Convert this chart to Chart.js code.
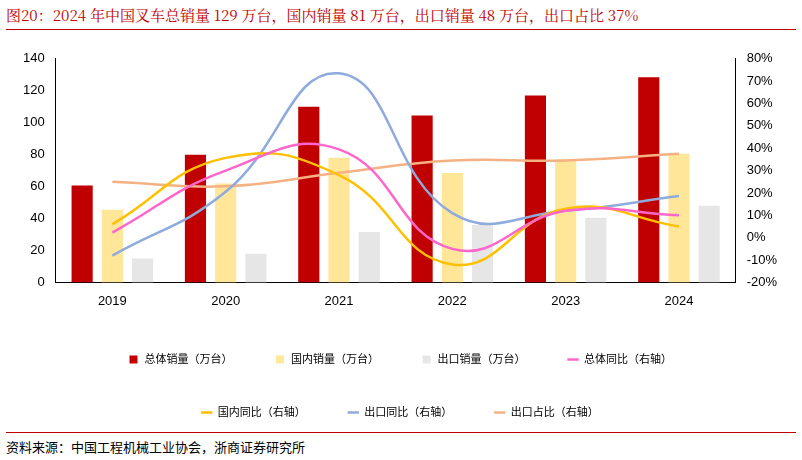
<!DOCTYPE html><html><head><meta charset="utf-8">
<script src="https://cdn.jsdelivr.net/npm/chart.js@4"></script>
<style>body{margin:0;background:#fff;font-family:"Liberation Sans","Noto Sans CJK SC";}
#t{position:absolute;left:6px;top:4px;color:#C00000;font-size:15px;font-family:"Noto Serif CJK SC","Noto Sans CJK SC";width:790px;border-bottom:1.5px solid #C00000;padding-bottom:4px}
#s{position:absolute;left:6px;top:432px;font-size:13px;width:790px;border-top:1.5px solid #C00000;padding-top:4px;font-family:"Noto Sans CJK SC"}
#w{position:absolute;left:20px;top:48px;width:760px;height:380px}</style></head><body>
<div id="t">图20：2024 年中国叉车总销量 129 万台，国内销量 81 万台，出口销量 48 万台，出口占比 37%</div>
<div id="w"><canvas id="c"></canvas></div>
<div id="s">资料来源：中国工程机械工业协会，浙商证券研究所</div>
<script>
const years=['2019','2020','2021','2022','2023','2024'];
const total=[60.7,80,110,104.5,117,128.5];
const domestic=[45.5,62,78,68.5,77,80.5];
const exportV=[15,18,31.5,36,40.5,48];
const totalYoy=[2.3,30,39.5,-5,12,10];
const domYoy=[6,35.7,28,-12,13,5];
const expYoy=[-8,20.5,73.5,11,12,18.6];
const expShare=[25,23,29,34.5,34.5,37.5];
const F="'Liberation Sans','Noto Sans CJK SC'";
const line=(l,d,c)=>({type:'line',label:l,data:d,borderColor:c,backgroundColor:c,borderWidth:2.5,pointRadius:0,tension:0.45,yAxisID:'y1',pointStyle:'line',order:1});
const bar=(l,d,c)=>({type:'bar',label:l,data:d,backgroundColor:c,yAxisID:'y',pointStyle:'rect',barPercentage:0.7,categoryPercentage:0.8,order:2});
new Chart(document.getElementById('c'),{data:{labels:years,datasets:[
bar('总体销量（万台）',total,'#C00000'),bar('国内销量（万台）',domestic,'#FFE699'),bar('出口销量（万台）',exportV,'#E7E6E6'),
line('总体同比（右轴）',totalYoy,'#FF66CC'),line('国内同比（右轴）',domYoy,'#FFC000'),line('出口同比（右轴）',expYoy,'#8FAADC'),line('出口占比（右轴）',expShare,'#F4B183')]},
options:{responsive:true,maintainAspectRatio:false,animation:false,
plugins:{legend:{position:'bottom',labels:{usePointStyle:true,boxWidth:30,boxHeight:8,padding:42,font:{size:11,family:F},color:'#000',sort:(a,b)=>a.datasetIndex-b.datasetIndex}}},
scales:{x:{grid:{display:false},border:{color:'#000'},ticks:{color:'#000',font:{size:13,family:F}}},
y:{min:0,max:140,ticks:{stepSize:20,color:'#000',font:{size:13,family:F}},grid:{display:false},border:{color:'#000'}},
y1:{position:'right',min:-20,max:80,ticks:{stepSize:10,color:'#000',font:{size:13,family:F},callback:v=>v+'%'},grid:{display:false},border:{color:'#000'}}}}});
</script></body></html>
